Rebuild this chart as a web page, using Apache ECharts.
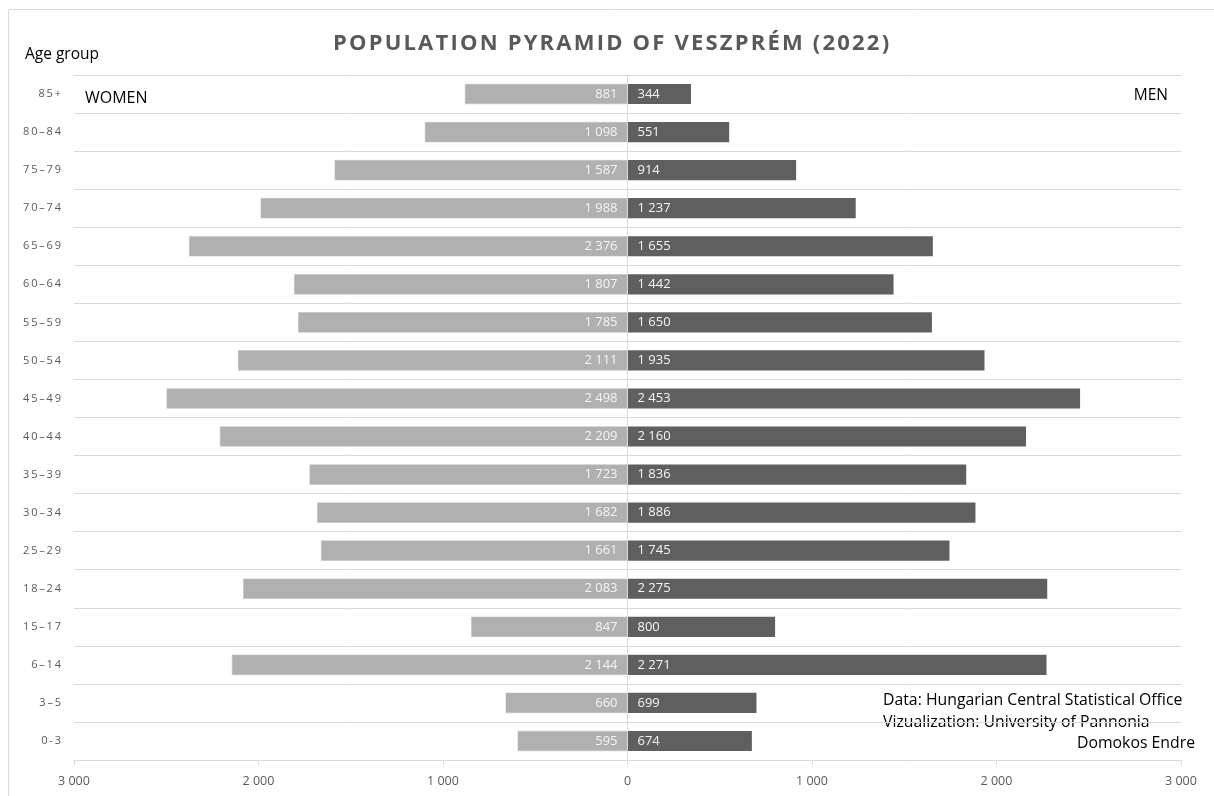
<!DOCTYPE html>
<html>
<head>
<meta charset="utf-8">
<script src="https://cdn.jsdelivr.net/npm/echarts@6/dist/echarts.min.js"></script>
<style>
  html, body { margin: 0; padding: 0; background: #fff; }
  #chart { width: 1214px; height: 796px; }
</style>
</head>
<body>
<div id="chart"></div>
<script>
// age groups, top to bottom
const ageGroups = ['85+', '80–84', '75–79', '70–74', '65–69', '60–64', '55–59', '50–54', '45–49',
  '40–44', '35–39', '30–34', '25–29', '18–24', '15–17', '6–14', '3–5', '0-3'];
const women = [881, 1098, 1587, 1988, 2376, 1807, 1785, 2111, 2498, 2209, 1723, 1682, 1661, 2083, 847, 2144, 660, 595];
const men = [344, 551, 914, 1237, 1655, 1442, 1650, 1935, 2453, 2160, 1836, 1886, 1745, 2275, 800, 2271, 699, 674];
const xTicks = [-3000, -2000, -1000, 0, 1000, 2000, 3000];

const FONT = '"Open Sans", sans-serif';

// 1 234 style numbers
function fmt(v) {
    return String(Math.abs(v)).replace(/\B(?=(\d{3})+(?!\d))/g, ' ');
}
// fake letter spacing
function spaced(s, sp) {
    return s.split('').join(sp);
}

let chart = echarts.init(document.getElementById('chart'), null, {renderer: 'canvas'});
let option = {
    backgroundColor: '#fff',
    animation: false,
    textStyle: {fontFamily: FONT},
    title: {
        text: spaced('POPULATION PYRAMID OF VESZPRÉM (2022)', '\u200A'),
        left: 606,
        textAlign: 'center',
        top: 28,
        textStyle: {fontSize: 22, fontWeight: 'bold', color: '#595959', fontFamily: FONT}
    },
    grid: {left: 74, right: 33, top: 75, bottom: 36, containLabel: false},
    xAxis: {
        type: 'value',
        min: xTicks[0],
        max: xTicks[xTicks.length - 1],
        interval: 1000,
        axisLine: {show: true, lineStyle: {color: '#d9d9d9'}},
        axisTick: {show: true, length: 5, lineStyle: {color: '#d9d9d9'}},
        splitLine: {show: false},
        axisLabel: {
            color: '#595959', fontSize: 12.5, margin: 15, fontFamily: FONT,
            formatter: v => fmt(v)
        }
    },
    yAxis: {
        type: 'category',
        data: ageGroups,
        inverse: true,
        axisLine: {show: false},
        axisTick: {show: false},
        splitLine: {show: true, lineStyle: {color: '#d9d9d9', width: 1}},
        axisLabel: {
            color: '#595959', fontSize: 11, margin: 13, fontFamily: FONT,
            formatter: v => spaced(v, '\u2009')
        }
    },
    series: [
        {
            name: 'Women',
            type: 'bar',
            stack: 'pop',
            barWidth: '53%',
            data: women.map(v => -v),
            itemStyle: {color: '#b0b0b0', borderColor: '#bdbdbd', borderWidth: 0.5},
            label: {
                show: true, position: 'insideRight', distance: 10,
                color: '#f5f5f5', fontSize: 13, fontFamily: FONT,
                formatter: p => fmt(p.value)
            },
            markLine: {
                silent: true, symbol: 'none', label: {show: false},
                lineStyle: {color: '#d9d9d9', type: 'solid', width: 1},
                data: [{xAxis: 0}]
            }
        },
        {
            name: 'Men',
            type: 'bar',
            stack: 'pop',
            barWidth: '53%',
            data: men,
            itemStyle: {color: '#5f5f5f'},
            label: {
                show: true, position: 'insideLeft', distance: 10,
                color: '#f5f5f5', fontSize: 13, fontFamily: FONT,
                formatter: p => fmt(p.value)
            }
        }
    ],
    graphic: [
        {type: 'rect', shape: {x: 8.5, y: 9.5, width: 1220, height: 800}, style: {fill: 'none', stroke: '#d9d9d9', lineWidth: 1}, silent: true},
        {type: 'text', left: 25, top: 47, style: {text: 'Age group', fontSize: 15.5, fill: '#000', fontFamily: FONT}},
        {type: 'text', left: 85, top: 90, style: {text: 'WOMEN', fontSize: 16, fill: '#000', fontFamily: FONT}},
        {type: 'text', right: 46, top: 88, style: {text: 'MEN', fontSize: 15.5, fill: '#000', fontFamily: FONT}},
        {type: 'text', left: 883, top: 692, style: {text: 'Data: Hungarian Central Statistical Office', fontSize: 15.8, fill: '#000', fontFamily: FONT}},
        {type: 'text', left: 883, top: 714, style: {text: 'Vizualization: University of Pannonia', fontSize: 15.8, fill: '#000', fontFamily: FONT}},
        {type: 'text', right: 19, top: 735, style: {text: 'Domokos Endre', fontSize: 15.8, fill: '#000', fontFamily: FONT}}
    ]
};
chart.setOption(option);
</script>
</body>
</html>
